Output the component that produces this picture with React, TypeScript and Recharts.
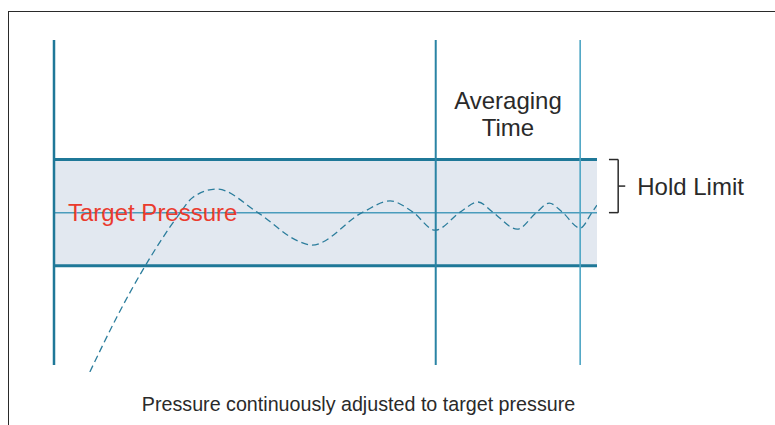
import {
  ComposedChart,
  Line,
  XAxis,
  YAxis,
  ReferenceArea,
  ReferenceLine,
  ReferenceDot,
} from 'recharts';

// time axis: 0 = start, 100 = end of the displayed window
const time = [6.6, 11.6, 17.1, 22.7, 25.6, 30.0, 37.4, 45.3, 47.5, 56.9, 61.9, 66.1, 70.2, 74.8, 78.1, 80.8, 85.3, 88.9, 91.2, 93.6, 96.9, 99.1, 100];
const pressure = [70.0, 80.4, 90.5, 99.2, 102.9, 104.45, 100.1, 94.5, 93.9, 100.1, 102.2, 100.1, 96.7, 100.1, 102.0, 100.1, 96.9, 100.1, 101.8, 100.1, 97.1, 100.1, 101.4];

const target = 100;
const holdLimit = 10;
const averagingStart = 70.3;
const averagingEnd = 96.9;
const markerTop = 132.5;
const markerBottom = 71.3;

const data = time.map((t, i) => ({ t, p: pressure[i] }));

const teal = '#1f7898';
const tealLight = '#4ea5c4';
const ink = '#2a2a2a';

export default function App() {
  const vSeg = (x: number) => [
    { x, y: markerBottom },
    { x, y: markerTop },
  ];
  const hi = target + holdLimit;
  const lo = target - holdLimit;
  return (
    <div
      style={{
        position: 'absolute',
        left: 0,
        top: 0,
        width: 775,
        height: 425,
        fontFamily: '"Liberation Sans", Arial, sans-serif',
        background: '#fff',
      }}
    >
      {/* frame */}
      <div
        style={{
          position: 'absolute',
          left: 8,
          top: 11,
          width: 775,
          height: 425,
          borderTop: `1.5px solid ${ink}`,
          borderLeft: `1.5px solid ${ink}`,
        }}
      />
      <div style={{ position: 'absolute', left: 0, top: 0 }}>
        <ComposedChart
          width={775}
          height={425}
          data={data}
          margin={{ top: 40, right: 178, bottom: 53, left: 54 }}
        >
          <XAxis dataKey="t" type="number" domain={[0, 100]} hide allowDataOverflow />
          <YAxis type="number" domain={[70, markerTop]} hide allowDataOverflow />
          <ReferenceArea x1={0} x2={100} y1={lo} y2={hi} fill="#e2e8f0" fillOpacity={1} stroke="none" />
          <ReferenceLine y={hi} stroke={teal} strokeWidth={3} />
          <ReferenceLine y={lo} stroke={teal} strokeWidth={3} />
          <ReferenceLine
            y={target}
            stroke="#4a9cbc"
            strokeWidth={1.5}
            label={{ value: 'Target Pressure', position: 'insideLeft', offset: 14, fill: '#ea3b2e', fontSize: 24 }}
          />
          <ReferenceLine segment={vSeg(0)} stroke={teal} strokeWidth={2.5} />
          <ReferenceLine segment={vSeg(averagingStart)} stroke="#2a84a4" strokeWidth={2} />
          <ReferenceLine segment={vSeg(averagingEnd)} stroke={tealLight} strokeWidth={1.6} />
          <Line
            dataKey="p"
            type="monotone"
            stroke="#2b7d9c"
            strokeWidth={1.3}
            strokeDasharray="7 4"
            dot={false}
            isAnimationActive={false}
          />
          {/* Hold Limit bracket */}
          <ReferenceLine segment={[{ x: 102.2, y: hi }, { x: 103.9, y: hi }]} stroke={ink} strokeWidth={1.5} ifOverflow="visible" />
          <ReferenceLine segment={[{ x: 103.9, y: hi }, { x: 103.9, y: target }]} stroke={ink} strokeWidth={1.5} ifOverflow="visible" />
          <ReferenceLine segment={[{ x: 102.2, y: target }, { x: 103.9, y: target }]} stroke={ink} strokeWidth={1.5} ifOverflow="visible" />
          <ReferenceLine segment={[{ x: 103.9, y: target + holdLimit / 2 }, { x: 105.2, y: target + holdLimit / 2 }]} stroke={ink} strokeWidth={1.5} ifOverflow="visible" />
          <ReferenceDot
            x={105.2}
            y={target + holdLimit / 2}
            r={0}
            stroke="none"
            ifOverflow="visible"
            label={{ value: 'Hold Limit', position: 'right', offset: 12, fill: ink, fontSize: 24 }}
          />
          <ReferenceDot
            x={(averagingStart + averagingEnd) / 2}
            y={121.2}
            r={0}
            stroke="none"
            label={{ value: 'Averaging', position: 'center', fill: ink, fontSize: 24 }}
          />
          <ReferenceDot
            x={(averagingStart + averagingEnd) / 2}
            y={116.1}
            r={0}
            stroke="none"
            label={{ value: 'Time', position: 'center', fill: ink, fontSize: 24 }}
          />
        </ComposedChart>
      </div>
      <div
        style={{
          position: 'absolute',
          left: 0,
          width: 717,
          top: 393,
          textAlign: 'center',
          fontSize: 19.7,
          color: ink,
        }}
      >
        Pressure continuously adjusted to target pressure
      </div>
    </div>
  );
}
